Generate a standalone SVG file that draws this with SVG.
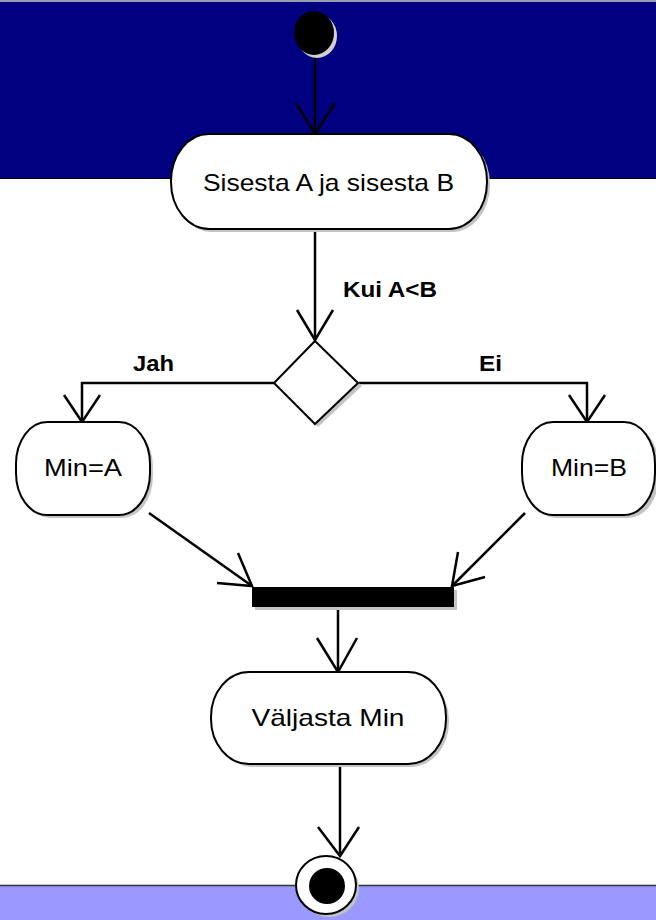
<svg xmlns="http://www.w3.org/2000/svg" width="656" height="920" viewBox="0 0 656 920">
<style>
.node{fill:#fff;stroke:#000;stroke-width:2}
.shadow{fill:#c4c4c4}
.lbl{font-family:"Liberation Sans",Arial,sans-serif;font-size:24px;fill:#000;text-anchor:middle}
.guard{font-family:"Liberation Sans",Arial,sans-serif;font-size:22px;font-weight:bold;fill:#000}
.conn{fill:none;stroke:#000;stroke-width:2.5;stroke-linejoin:miter}
.head{fill:none;stroke:#000;stroke-width:2.5}
</style>
<rect x="0" y="0" width="656" height="920" fill="#fff"/>
<rect x="0" y="0" width="656" height="178" fill="#000080"/>
<rect x="0" y="0" width="656" height="2" fill="#9a9ab0"/>
<line x1="0" y1="178.5" x2="656" y2="178.5" stroke="#000" stroke-width="1"/>
<rect x="0" y="885" width="656" height="35" fill="#9999ff"/>
<line x1="0" y1="885.5" x2="656" y2="885.5" stroke="#333" stroke-width="1.5"/>

<g id="connectors">
<line class="conn" x1="315" y1="55" x2="315" y2="134"/>
<polyline class="head" points="296,103 315,134 335,103"/>
<line class="conn" x1="315" y1="229" x2="315" y2="340"/>
<polyline class="head" points="297,310 315,340 333,310"/>
<text class="guard" x="343" y="297" textLength="94" lengthAdjust="spacingAndGlyphs">Kui A&lt;B</text>
<polyline class="conn" points="274,383 82,383 82,422"/>
<polyline class="head" points="64,395 82,422 100,395"/>
<text class="guard" x="133" y="371" textLength="41" lengthAdjust="spacingAndGlyphs">Jah</text>
<polyline class="conn" points="359,383 587,383 587,422"/>
<polyline class="head" points="569,395 587,422 605,395"/>
<text class="guard" x="479" y="371" textLength="23" lengthAdjust="spacingAndGlyphs">Ei</text>
<line class="conn" x1="149" y1="513" x2="252" y2="586"/>
<polyline class="head" points="238,553 252,586 217,583"/>
<line class="conn" x1="525" y1="513" x2="452" y2="586"/>
<polyline class="head" points="458,552 452,586 485,577"/>
<line class="conn" x1="338" y1="607" x2="338" y2="672" stroke-width="3.5"/>
<polyline class="head" points="317,638 338,672 357,638"/>
<line class="conn" x1="340" y1="764" x2="340" y2="856" stroke-width="2"/>
<polyline class="head" points="318,827 340,856 359,827"/>
</g>

<g id="start">
<ellipse cx="317" cy="36" rx="20" ry="22" fill="#d0d0d0"/>
<ellipse cx="314" cy="33" rx="20" ry="22" fill="#000"/>
</g>

<g id="sisesta">
<rect class="shadow" x="174" y="137" width="316" height="95" rx="38" ry="47"/>
<rect class="node" x="171" y="134" width="316" height="95" rx="38" ry="47"/>
<text class="lbl" x="328.5" y="191" font-size="25" textLength="251" lengthAdjust="spacingAndGlyphs">Sisesta A ja sisesta B</text>
</g>

<g id="decision">
<polygon class="shadow" points="318,345 362,386 318,427 277,386"/>
<polygon class="node" points="315,341 358,383 315,424 274,383"/>
</g>

<g id="minA">
<rect class="shadow" x="19" y="425" width="134" height="93" rx="31" ry="42"/>
<rect class="node" x="16" y="422" width="134" height="93" rx="31" ry="42"/>
<text class="lbl" x="83" y="476" font-size="22" textLength="78" lengthAdjust="spacingAndGlyphs">Min=A</text>
</g>

<g id="minB">
<rect class="shadow" x="525" y="425" width="134" height="93" rx="31" ry="42"/>
<rect class="node" x="522" y="422" width="133" height="93" rx="31" ry="42"/>
<text class="lbl" x="589" y="476" font-size="22" textLength="76" lengthAdjust="spacingAndGlyphs">Min=B</text>
</g>

<g id="join">
<rect class="shadow" x="255" y="590" width="202" height="20"/>
<rect x="252" y="587" width="202" height="20" fill="#000"/>
</g>

<g id="valjasta">
<rect class="shadow" x="214" y="675" width="235" height="92" rx="38" ry="45"/>
<rect class="node" x="211" y="672" width="235" height="92" rx="38" ry="45"/>
<text class="lbl" x="328" y="726" font-size="23" textLength="153" lengthAdjust="spacingAndGlyphs">Väljasta Min</text>
</g>

<g id="end">
<ellipse cx="329" cy="888" rx="30" ry="29" fill="#c4c4c4"/>
<ellipse cx="326" cy="885" rx="30" ry="29" fill="#fff" stroke="#000" stroke-width="2"/>
<circle cx="327" cy="886" r="18" fill="#000"/>
</g>
</svg>
